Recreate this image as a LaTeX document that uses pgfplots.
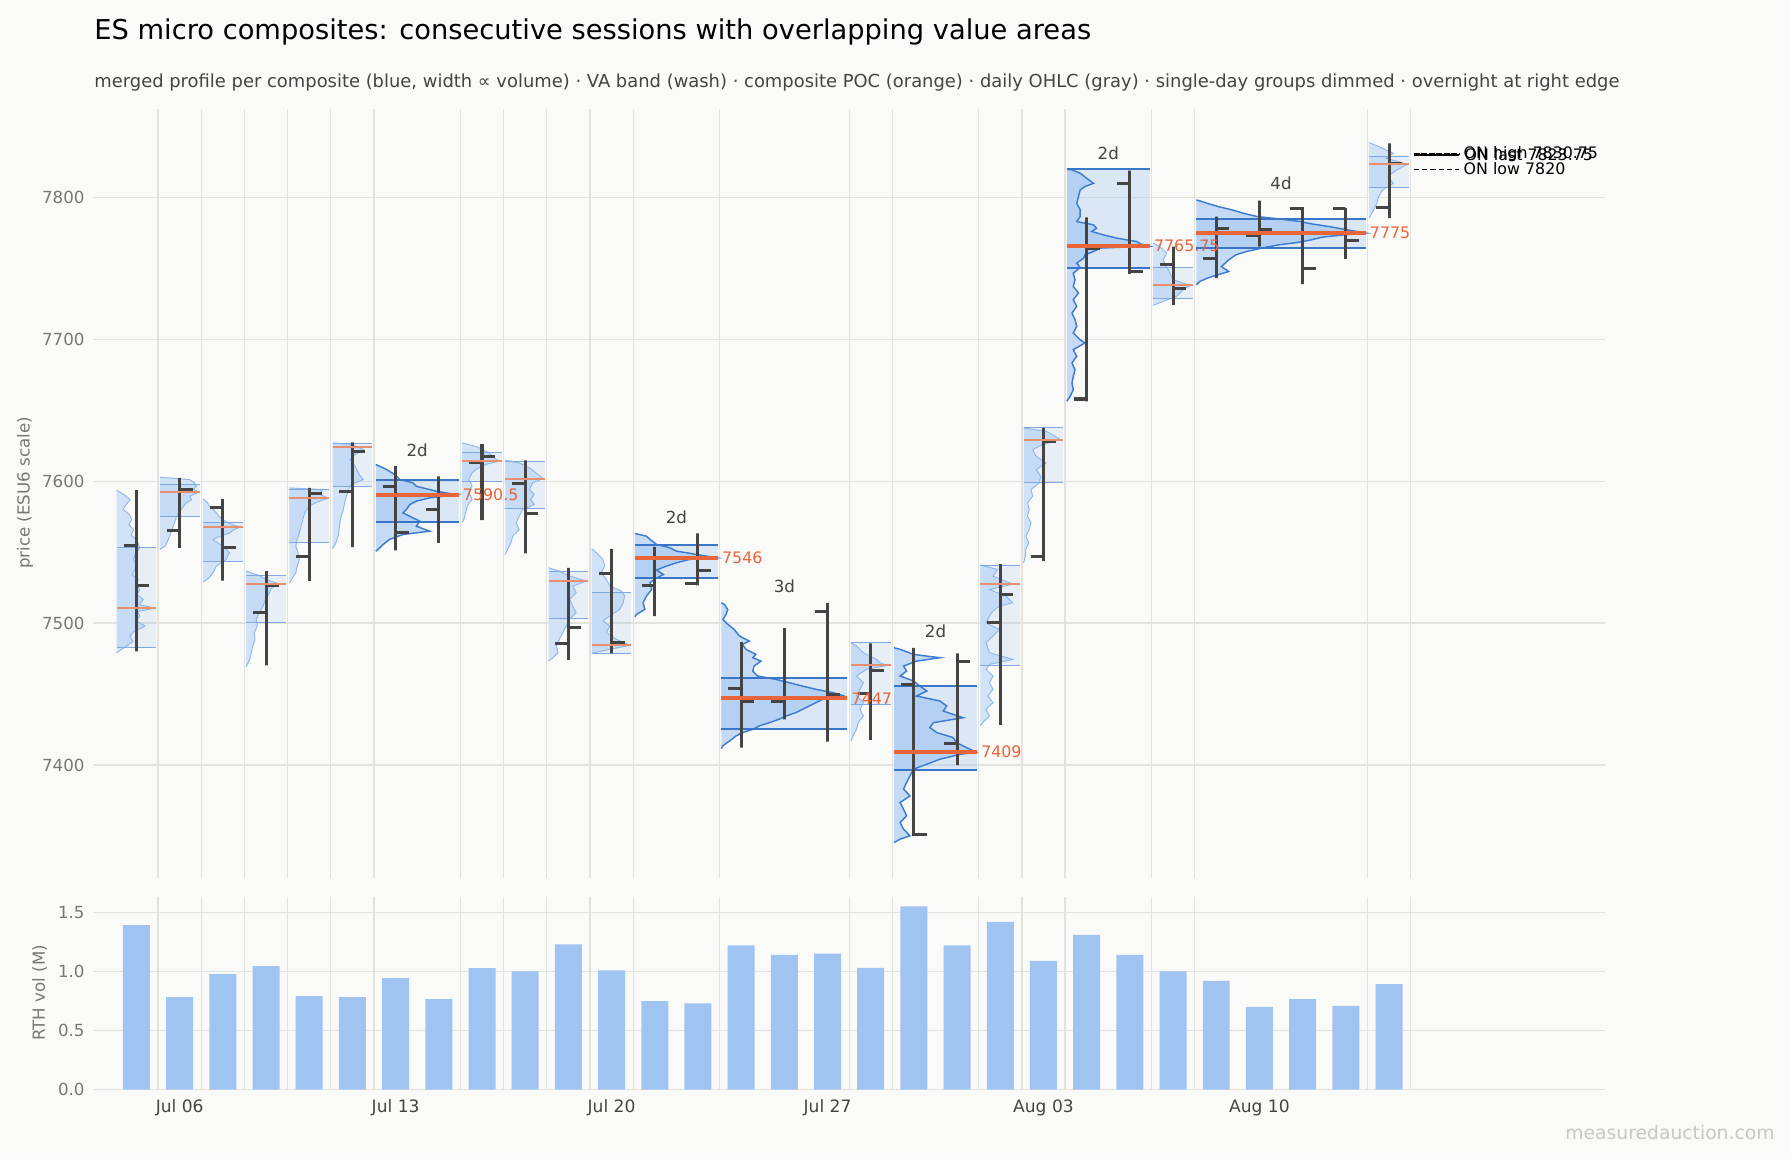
\documentclass[border=0pt]{standalone}
\usepackage{fontspec}
\setmainfont{DejaVu Sans}
\usepackage{pgfplots}
\usepackage{pgfplotstable}
\pgfplotsset{compat=1.18}

\definecolor{bgc}{HTML}{FAFAF8}
\definecolor{gridc}{HTML}{E3E3DE}
\definecolor{profS}{HTML}{D2E3F8}
\definecolor{profM}{HTML}{C4DAF5}
\definecolor{washc}{HTML}{8AB6F0}
\definecolor{olS}{HTML}{8DB7EC}
\definecolor{olM}{HTML}{3C7CD2}
\definecolor{vlS}{HTML}{7EA9E4}
\definecolor{vlM}{HTML}{3A76C8}
\definecolor{pocS}{HTML}{E98E6E}
\definecolor{pocM}{HTML}{E8643A}
\definecolor{ohlcc}{HTML}{444444}
\definecolor{barc}{HTML}{A0C4F2}
\definecolor{tickc}{HTML}{777777}
\definecolor{datec}{HTML}{444444}

% profiles: p = price, w = width (in day units) from composite left edge
\pgfplotstableread[row sep=\\]{p w\\ 7593.7 0\\ 7590.0 0.20\\ 7587.1 0.31\\ 7583.5 0.22\\ 7580.1 0.15\\ 7576.5 0.30\\ 7573.0 0.35\\ 7569.5 0.28\\ 7566.0 0.39\\ 7562.0 0.34\\ 7558.9 0.46\\ 7553.1 0.54\\ 7549.0 0.44\\ 7544.9 0.39\\ 7541.0 0.47\\ 7537.8 0.42\\ 7534.0 0.36\\ 7530.8 0.50\\ 7527.0 0.44\\ 7523.7 0.54\\ 7520.0 0.47\\ 7516.7 0.62\\ 7513.0 0.52\\ 7510.6 0.89\\ 7508.0 0.48\\ 7505.0 0.54\\ 7501.5 0.45\\ 7497.9 0.66\\ 7494.0 0.40\\ 7490.9 0.31\\ 7487.0 0.38\\ 7483.8 0.23\\ 7479.1 0\\}\pA
\pgfplotstableread[row sep=\\]{p w\\ 7602.8 0\\ 7601.2 0.69\\ 7599.0 0.80\\ 7596.5 0.85\\ 7594.5 0.78\\ 7592.3 0.90\\ 7589.5 0.69\\ 7587.0 0.74\\ 7584.8 0.62\\ 7582.5 0.55\\ 7580.1 0.50\\ 7577.8 0.44\\ 7575.4 0.39\\ 7571.8 0.35\\ 7568.3 0.31\\ 7564.8 0.27\\ 7561.3 0.23\\ 7557.8 0.18\\ 7554.2 0.12\\ 7551.9 0\\}\pB
\pgfplotstableread[row sep=\\]{p w\\ 7587.6 0\\ 7585.0 0.10\\ 7582.4 0.15\\ 7580.0 0.24\\ 7577.7 0.31\\ 7575.3 0.37\\ 7573.0 0.46\\ 7570.3 0.60\\ 7567.6 0.85\\ 7565.6 0.70\\ 7563.6 0.62\\ 7561.2 0.40\\ 7558.9 0.23\\ 7556.5 0.35\\ 7554.2 0.46\\ 7551.8 0.55\\ 7549.5 0.62\\ 7547.2 0.57\\ 7544.9 0.54\\ 7542.5 0.42\\ 7540.2 0.31\\ 7537.8 0.27\\ 7535.5 0.23\\ 7532.0 0.14\\ 7528.9 0\\}\pC
\pgfplotstableread[row sep=\\]{p w\\ 7536.6 0\\ 7533.6 0.30\\ 7530.8 0.46\\ 7527.5 0.77\\ 7524.5 0.58\\ 7521.4 0.54\\ 7517.0 0.45\\ 7512.0 0.39\\ 7507.0 0.30\\ 7502.6 0.23\\ 7498.0 0.26\\ 7493.2 0.19\\ 7488.0 0.20\\ 7483.8 0.15\\ 7479.0 0.12\\ 7474.4 0.08\\ 7469.3 0\\}\pD
\pgfplotstableread[row sep=\\]{p w\\ 7595.3 0\\ 7594.2 0.77\\ 7591.0 0.70\\ 7588.0 0.89\\ 7585.0 0.62\\ 7582.4 0.46\\ 7578.0 0.36\\ 7573.0 0.31\\ 7568.0 0.27\\ 7563.6 0.23\\ 7559.0 0.18\\ 7554.2 0.15\\ 7549.5 0.20\\ 7544.9 0.23\\ 7540.0 0.18\\ 7535.5 0.15\\ 7528.4 0\\}\pE
\pgfplotstableread[row sep=\\]{p w\\ 7627.0 0\\ 7625.8 0.48\\ 7622.3 0.71\\ 7618.8 0.52\\ 7615.3 0.40\\ 7611.7 0.50\\ 7608.2 0.56\\ 7604.7 0.62\\ 7601.2 0.71\\ 7598.8 0.52\\ 7596.5 0.40\\ 7593.0 0.36\\ 7589.5 0.32\\ 7585.0 0.28\\ 7580.1 0.25\\ 7575.4 0.20\\ 7570.7 0.17\\ 7566.0 0.15\\ 7561.3 0.13\\ 7556.8 0.08\\ 7552.4 0\\}\pF
\pgfplotstableread[row sep=\\]{p w\\ 7611.8 0\\ 7608.3 0.25\\ 7604.7 0.44\\ 7601.2 0.56\\ 7598.9 0.86\\ 7596.5 0.94\\ 7593.0 1.40\\ 7590.5 1.88\\ 7588.3 1.25\\ 7586.0 0.94\\ 7583.6 0.79\\ 7580.1 0.71\\ 7577.7 0.63\\ 7574.2 0.86\\ 7571.9 1.02\\ 7568.3 0.94\\ 7564.8 1.25\\ 7562.5 0.63\\ 7559.0 0.32\\ 7555.4 0.17\\ 7551.9 0.05\\ 7550.7 0\\}\pG
\pgfplotstableread[row sep=\\]{p w\\ 7627.0 0\\ 7624.7 0.31\\ 7622.3 0.48\\ 7620.0 0.62\\ 7617.0 0.72\\ 7614.1 0.85\\ 7612.3 0.60\\ 7610.6 0.46\\ 7608.2 0.32\\ 7605.9 0.23\\ 7603.5 0.19\\ 7601.2 0.15\\ 7598.8 0.20\\ 7596.5 0.23\\ 7594.1 0.18\\ 7591.8 0.15\\ 7589.4 0.20\\ 7587.1 0.23\\ 7584.7 0.16\\ 7582.4 0.12\\ 7577.7 0.08\\ 7573.0 0.04\\ 7571.1 0\\}\pH
\pgfplotstableread[row sep=\\]{p w\\ 7614.8 0\\ 7613.0 0.32\\ 7609.4 0.56\\ 7605.9 0.71\\ 7601.9 0.88\\ 7598.9 0.63\\ 7594.2 0.56\\ 7590.7 0.67\\ 7587.1 0.59\\ 7583.6 0.67\\ 7580.1 0.40\\ 7575.4 0.32\\ 7570.7 0.25\\ 7566.0 0.32\\ 7561.3 0.17\\ 7556.6 0.13\\ 7551.9 0.05\\ 7548.4 0\\}\pI
\pgfplotstableread[row sep=\\]{p w\\ 7539.0 0\\ 7536.7 0.25\\ 7533.2 0.49\\ 7529.6 0.87\\ 7526.1 0.56\\ 7521.4 0.64\\ 7516.7 0.49\\ 7512.0 0.56\\ 7507.3 0.64\\ 7503.1 0.49\\ 7497.9 0.41\\ 7493.3 0.33\\ 7488.6 0.25\\ 7483.9 0.18\\ 7479.2 0.22\\ 7475.6 0.10\\ 7473.3 0\\}\pJ
\pgfplotstableread[row sep=\\]{p w\\ 7552.4 0\\ 7549.6 0.11\\ 7544.9 0.26\\ 7540.2 0.30\\ 7535.5 0.22\\ 7530.8 0.34\\ 7526.1 0.42\\ 7522.6 0.69\\ 7519.1 0.76\\ 7514.4 0.73\\ 7509.7 0.65\\ 7505.0 0.42\\ 7501.5 0.26\\ 7497.9 0.42\\ 7493.3 0.34\\ 7488.6 0.57\\ 7484.3 0.88\\ 7481.5 0.42\\ 7478.7 0\\}\pK
\pgfplotstableread[row sep=\\]{p w\\ 7563.2 0\\ 7561.3 0.27\\ 7559.0 0.35\\ 7555.5 0.50\\ 7553.1 0.81\\ 7550.8 0.96\\ 7548.4 1.43\\ 7546.0 1.89\\ 7544.9 1.27\\ 7542.5 0.96\\ 7540.2 0.73\\ 7537.4 0.50\\ 7534.3 0.66\\ 7531.7 0.50\\ 7528.5 0.35\\ 7523.8 0.39\\ 7519.1 0.27\\ 7514.4 0.19\\ 7509.7 0.23\\ 7506.2 0.04\\ 7504.5 0\\}\pL
\pgfplotstableread[row sep=\\]{p w\\ 7514.3 0\\ 7513.2 0.07\\ 7509.6 0.15\\ 7506.1 0.11\\ 7502.6 0.04\\ 7500.2 0.11\\ 7495.5 0.30\\ 7490.9 0.42\\ 7487.3 0.65\\ 7485.0 0.49\\ 7481.5 0.57\\ 7478.0 0.80\\ 7475.6 0.73\\ 7473.2 0.92\\ 7469.7 0.76\\ 7466.2 0.73\\ 7462.7 0.84\\ 7460.3 1.27\\ 7458.0 1.57\\ 7455.6 1.88\\ 7453.3 2.19\\ 7451.0 2.58\\ 7448.6 2.85\\ 7447.0 2.89\\ 7446.3 2.35\\ 7443.9 2.19\\ 7441.6 2.04\\ 7439.2 1.88\\ 7436.9 1.73\\ 7434.5 1.50\\ 7432.2 1.34\\ 7429.8 1.11\\ 7427.5 0.88\\ 7425.1 0.73\\ 7422.8 0.49\\ 7420.4 0.34\\ 7416.9 0.19\\ 7413.4 0.03\\ 7411.5 0\\}\pM
\pgfplotstableread[row sep=\\]{p w\\ 7486.2 0\\ 7483.8 0.13\\ 7479.1 0.29\\ 7474.4 0.60\\ 7472.1 0.67\\ 7470.2 0.85\\ 7467.4 0.36\\ 7462.7 0.13\\ 7458.0 0.29\\ 7453.3 0.21\\ 7448.6 0.13\\ 7443.9 0.29\\ 7439.2 0.21\\ 7434.5 0.29\\ 7429.8 0.17\\ 7425.1 0.13\\ 7420.4 0.05\\ 7416.9 0\\}\pN
\pgfplotstableread[row sep=\\]{p w\\ 7482.6 0\\ 7481.5 0.14\\ 7477.9 0.45\\ 7475.6 1.06\\ 7473.2 0.52\\ 7469.7 0.22\\ 7466.2 0.29\\ 7462.7 0.14\\ 7459.2 0.45\\ 7455.6 0.60\\ 7452.1 0.76\\ 7448.6 0.52\\ 7445.1 1.06\\ 7441.6 1.22\\ 7438.0 1.14\\ 7433.3 1.60\\ 7429.8 0.91\\ 7426.3 0.83\\ 7422.8 0.99\\ 7419.3 1.37\\ 7415.7 1.45\\ 7412.2 1.68\\ 7409.0 1.90\\ 7407.5 1.53\\ 7404.0 1.06\\ 7400.5 0.76\\ 7397.0 0.45\\ 7392.3 0.37\\ 7387.6 0.29\\ 7382.9 0.22\\ 7378.2 0.37\\ 7373.5 0.14\\ 7368.8 0.22\\ 7364.1 0.29\\ 7359.4 0.14\\ 7354.7 0.22\\ 7350.0 0.37\\ 7347.7 0.14\\ 7345.3 0\\}\pO
\pgfplotstableread[row sep=\\]{p w\\ 7541.0 0\\ 7537.8 0.40\\ 7533.1 0.29\\ 7527.5 0.75\\ 7523.7 0.21\\ 7519.0 0.59\\ 7514.3 0.75\\ 7512.0 0.44\\ 7508.5 0.29\\ 7504.9 0.21\\ 7500.2 0.13\\ 7495.5 0.44\\ 7490.9 0.29\\ 7486.2 0.13\\ 7479.1 0.21\\ 7474.4 0.75\\ 7470.9 0.21\\ 7467.4 0.13\\ 7462.7 0.29\\ 7458.0 0.21\\ 7453.3 0.29\\ 7448.6 0.17\\ 7443.9 0.29\\ 7439.2 0.13\\ 7434.5 0.21\\ 7429.8 0.05\\ 7427.5 0\\}\pP
\pgfplotstableread[row sep=\\]{p w\\ 7637.6 0\\ 7635.2 0.52\\ 7632.9 0.67\\ 7629.4 0.85\\ 7625.9 0.44\\ 7622.3 0.21\\ 7617.6 0.29\\ 7612.9 0.52\\ 7608.2 0.29\\ 7603.5 0.40\\ 7598.9 0.36\\ 7594.2 0.17\\ 7589.5 0.21\\ 7584.8 0.09\\ 7580.1 0.13\\ 7575.4 0.09\\ 7570.7 0.17\\ 7566.0 0.13\\ 7561.3 0.05\\ 7556.6 0.12\\ 7551.9 0.05\\ 7547.2 0.04\\ 7542.5 0\\}\pQ
\pgfplotstableread[row sep=\\]{p w\\ 7820.0 0\\ 7819.5 0.12\\ 7817.2 0.31\\ 7813.6 0.46\\ 7810.1 0.62\\ 7807.8 0.42\\ 7805.4 0.31\\ 7800.7 0.27\\ 7796.0 0.23\\ 7791.3 0.31\\ 7786.7 0.31\\ 7783.1 0.23\\ 7780.8 0.62\\ 7778.4 0.69\\ 7776.1 0.58\\ 7773.7 0.85\\ 7771.4 1.16\\ 7769.0 1.62\\ 7767.4 1.70\\ 7765.75 1.91\\ 7764.4 0.77\\ 7762.0 0.62\\ 7759.7 0.42\\ 7757.3 0.39\\ 7753.8 0.23\\ 7750.7 0.31\\ 7746.7 0.15\\ 7742.1 0.19\\ 7737.4 0.15\\ 7732.7 0.27\\ 7728.0 0.15\\ 7723.3 0.23\\ 7718.6 0.12\\ 7713.9 0.19\\ 7709.2 0.23\\ 7704.5 0.15\\ 7699.8 0.31\\ 7697.5 0.42\\ 7692.8 0.15\\ 7688.1 0.23\\ 7683.4 0.12\\ 7678.7 0.19\\ 7674.0 0.15\\ 7669.3 0.12\\ 7664.6 0.15\\ 7659.9 0.08\\ 7656.4 0\\}\pR
\pgfplotstableread[row sep=\\]{p w\\ 7767.9 0\\ 7765.5 0.15\\ 7760.8 0.31\\ 7756.1 0.23\\ 7751.4 0.31\\ 7746.7 0.39\\ 7742.1 0.46\\ 7738.1 0.85\\ 7735.0 0.69\\ 7730.3 0.54\\ 7726.8 0.23\\ 7724.0 0\\}\pS
\pgfplotstableread[row sep=\\]{p w\\ 7798.4 0\\ 7796.0 0.25\\ 7793.7 0.50\\ 7791.3 0.83\\ 7789.0 1.08\\ 7786.6 1.41\\ 7785.0 1.91\\ 7783.1 2.41\\ 7781.5 2.66\\ 7779.6 3.07\\ 7777.3 3.49\\ 7775.0 3.92\\ 7773.7 3.41\\ 7772.1 2.91\\ 7770.2 2.66\\ 7768.3 2.33\\ 7766.7 1.91\\ 7764.8 1.58\\ 7762.0 1.16\\ 7759.6 0.91\\ 7756.1 0.75\\ 7751.4 0.58\\ 7747.9 0.75\\ 7745.6 0.50\\ 7743.2 0.25\\ 7740.9 0.08\\ 7738.5 0\\}\pT
\pgfplotstableread[row sep=\\]{p w\\ 7838.8 0\\ 7836.0 0.22\\ 7831.2 0.56\\ 7827.7 0.39\\ 7823.5 0.89\\ 7819.5 0.64\\ 7814.8 0.43\\ 7810.1 0.56\\ 7805.4 0.31\\ 7800.7 0.22\\ 7796.0 0.18\\ 7791.3 0.10\\ 7785.5 0\\}\pU

\pgfplotsset{
  pf s/.style={fill=profS, draw=none},
  pf m/.style={fill=profM, draw=none},
  va s/.style={fill=washc, fill opacity=0.17, draw=none},
  va m/.style={fill=washc, fill opacity=0.27, draw=none},
  ol s/.style={draw=olS, line width=0.45pt},
  ol m/.style={draw=olM, line width=0.7pt},
  vl s/.style={draw=vlS, line width=0.5pt},
  vl m/.style={draw=vlM, line width=0.95pt},
  poc s/.style={draw=pocS, line width=1.0pt},
  poc m/.style={draw=pocM, line width=1.8pt},
  ohlcst/.style={draw=ohlcc, line width=1.45pt, line join=miter},
}
% #1 table, #2 xL, #3 xR, #4 VAL, #5 VAH, #6 s|m
\newcommand{\Comp}[6]{%
  \addplot[pf #6] table[x expr=#2+\thisrow{w}, y=p]{#1} -- cycle;
  \addplot[va #6] coordinates {(#2,#4) (#3,#4) (#3,#5) (#2,#5)} -- cycle;
  \addplot[ol #6] table[x expr=#2+\thisrow{w}, y=p]{#1};
  \addplot[vl #6] coordinates {(#2,#4) (#3,#4)};
  \addplot[vl #6] coordinates {(#2,#5) (#3,#5)};
}
\newcommand{\Poc}[4]{\addplot[poc #4] coordinates {(#1,#3) (#2,#3)};}
% #1 open-tick x, #2 day x, #3 close-tick x, #4 O, #5 H, #6 L, #7 C
\newcommand{\Bar}[7]{\addplot[ohlcst] coordinates {(#1,#4) (#2,#4) (#2,#5) (#2,#6) (#2,#7) (#3,#7)};}

\begin{document}
\begin{tikzpicture}
\fill[bgc] (0,0) rectangle (859.68pt,556.32pt);
\node[anchor=west, inner sep=0pt] at (45.1pt,541.2pt) {\fontsize{13.1}{15.5}\selectfont ES micro composites: consecutive sessions with overlapping value areas};
\node[anchor=west, inner sep=0pt, text=datec] at (45.1pt,516.9pt) {\fontsize{8.6}{10}\selectfont merged profile per composite (blue, width ∝ volume) · VA band (wash) · composite POC (orange) · daily OHLC (gray) · single-day groups dimmed · overnight at right edge};
\node[rotate=90, text=tickc, inner sep=0pt] at (12pt,319.7pt) {\fontsize{8}{9}\selectfont price (ESU6 scale)};
\node[rotate=90, text=tickc, inner sep=0pt] at (19pt,79.7pt) {\fontsize{8}{9}\selectfont RTH vol (M)};
\node[anchor=east, text=black!22, inner sep=0pt] at (852pt,12.5pt) {\fontsize{9}{10}\selectfont measuredauction.com};

\begin{axis}[
  at={(44.78pt,135.02pt)}, anchor=south west, scale only axis,
  width=725.6pt, height=369.2pt,
  xmin=-1, xmax=34, ymin=7320.5, ymax=7862.8,
  axis line style={draw=none}, tick style={draw=none},
  xtick={0.5,1.5,2.5,3.5,4.5,5.5,7.5,8.5,9.5,10.5,11.5,13.5,16.5,17.5,19.5,20.5,21.5,23.5,24.5,28.5,29.5},
  xticklabels={},
  ytick={7400,7500,7600,7700,7800},
  scaled y ticks=false,
  /pgf/number format/set thousands separator={},
  /pgf/number format/assume math mode=true,
  grid=major, grid style={draw=gridc, line width=0.6pt},
  yticklabel style={font=\fontsize{8}{9}\selectfont, text=tickc, inner sep=0pt, xshift=-4pt},
]
\Comp{\pA}{-0.46}{0.46}{7483.1}{7553.1}{s}
\Comp{\pB}{0.54}{1.46}{7575.0}{7598.0}{s}
\Comp{\pC}{1.54}{2.46}{7543.2}{7570.7}{s}
\Comp{\pD}{2.54}{3.46}{7500.5}{7533.6}{s}
\Comp{\pE}{3.54}{4.46}{7556.6}{7594.2}{s}
\Comp{\pF}{4.54}{5.46}{7596.5}{7626.3}{s}
\Comp{\pG}{5.54}{7.46}{7571.1}{7601.2}{m}
\Comp{\pH}{7.54}{8.46}{7600.0}{7620.0}{s}
\Comp{\pI}{8.54}{9.46}{7580.6}{7613.7}{s}
\Comp{\pJ}{9.54}{10.46}{7503.1}{7536.7}{s}
\Comp{\pK}{10.54}{11.46}{7478.7}{7521.4}{s}
\Comp{\pL}{11.54}{13.46}{7531.7}{7554.8}{m}
\Comp{\pM}{13.54}{16.46}{7425.4}{7461.3}{m}
\Comp{\pN}{16.54}{17.46}{7442.7}{7486.2}{s}
\Comp{\pO}{17.54}{19.46}{7396.5}{7455.6}{m}
\Comp{\pP}{19.54}{20.46}{7470.0}{7540.6}{s}
\Comp{\pQ}{20.54}{21.46}{7598.9}{7637.6}{s}
\Comp{\pR}{21.54}{23.46}{7750.7}{7820.0}{m}
\Comp{\pS}{23.54}{24.46}{7728.7}{7751.0}{s}
\Comp{\pT}{24.54}{28.46}{7764.8}{7785.2}{m}
\Comp{\pU}{28.54}{29.46}{7807.3}{7828.9}{s}
% daily OHLC
\Bar{-0.3}{0}{0.3}{7555.0}{7593.7}{7480.0}{7526.5}
\Bar{0.7}{1}{1.3}{7565.3}{7602.4}{7553.0}{7594.0}
\Bar{1.7}{2}{2.3}{7581.2}{7587.6}{7530.0}{7553.3}
\Bar{2.7}{3}{3.3}{7507.5}{7536.6}{7470.2}{7526.8}
\Bar{3.7}{4}{4.3}{7547.0}{7595.3}{7529.8}{7591.4}
\Bar{4.7}{5}{5.3}{7592.7}{7627.5}{7553.5}{7620.9}
\Bar{5.7}{6}{6.3}{7596.0}{7610.6}{7551.2}{7564.0}
\Bar{6.7}{7}{7.3}{7580.0}{7603.5}{7556.6}{7591.0}
\Bar{7.7}{8}{8.3}{7613.0}{7626.2}{7572.6}{7617.5}
\Bar{8.7}{9}{9.3}{7598.2}{7614.8}{7549.1}{7577.3}
\Bar{9.7}{10}{10.3}{7485.7}{7539.0}{7474.0}{7496.8}
\Bar{10.7}{11}{11.3}{7535.0}{7552.4}{7478.7}{7486.2}
\Bar{11.7}{12}{12.3}{7526.6}{7553.8}{7505.0}{7546.0}
\Bar{12.7}{13}{13.3}{7528.0}{7563.2}{7526.6}{7537.1}
\Bar{13.7}{14}{14.3}{7454.0}{7486.6}{7412.2}{7444.6}
\Bar{14.7}{15}{15.3}{7444.6}{7496.5}{7432.2}{7447.5}
\Bar{15.7}{16}{16.3}{7508.0}{7514.3}{7416.4}{7449.8}
\Bar{16.7}{17}{17.3}{7450.5}{7485.7}{7417.6}{7466.7}
\Bar{17.7}{18}{18.3}{7456.8}{7482.6}{7351.2}{7351.2}
\Bar{18.7}{19}{19.3}{7415.3}{7478.6}{7399.8}{7472.8}
\Bar{19.7}{20}{20.3}{7500.2}{7541.6}{7428.2}{7520.2}
\Bar{20.7}{21}{21.3}{7547.0}{7637.6}{7543.7}{7628.2}
\Bar{21.7}{22}{22.3}{7658.0}{7786.0}{7656.4}{7764.1}
\Bar{22.7}{23}{23.3}{7809.7}{7819.0}{7746.3}{7747.9}
\Bar{23.7}{24}{24.3}{7752.6}{7765.5}{7724.4}{7736.2}
\Bar{24.7}{25}{25.3}{7757.3}{7786.6}{7743.2}{7778.4}
\Bar{25.7}{26}{26.3}{7773.0}{7797.9}{7765.5}{7777.7}
\Bar{26.7}{27}{27.3}{7792.0}{7792.0}{7739.0}{7749.8}
\Bar{27.7}{28}{28.3}{7792.3}{7792.5}{7756.8}{7769.5}
\Bar{28.7}{29}{29.3}{7793.2}{7838.3}{7785.5}{7823.7}
% POC lines
\Poc{-0.46}{0.46}{7510.6}{s}
\Poc{0.54}{1.46}{7592.3}{s}
\Poc{1.54}{2.46}{7567.6}{s}
\Poc{2.54}{3.46}{7527.5}{s}
\Poc{3.54}{4.46}{7588.0}{s}
\Poc{4.54}{5.46}{7624.0}{s}
\Poc{5.54}{7.46}{7590.5}{m}
\Poc{7.54}{8.46}{7614.0}{s}
\Poc{8.54}{9.46}{7601.9}{s}
\Poc{9.54}{10.46}{7529.6}{s}
\Poc{10.54}{11.46}{7484.3}{s}
\Poc{11.54}{13.46}{7546.0}{m}
\Poc{13.54}{16.46}{7447.0}{m}
\Poc{16.54}{17.46}{7470.2}{s}
\Poc{17.54}{19.46}{7409.0}{m}
\Poc{19.54}{20.46}{7527.5}{s}
\Poc{20.54}{21.46}{7629.4}{s}
\Poc{21.54}{23.46}{7765.75}{m}
\Poc{23.54}{24.46}{7738.1}{s}
\Poc{24.54}{28.46}{7775.0}{m}
\Poc{28.54}{29.46}{7823.5}{s}
% overnight levels
\addplot[black, line width=1.1pt, dash pattern=on 3pt off 0.6pt] coordinates {(29.57,7830.75) (30.62,7830.75)};
\addplot[black, line width=0.8pt] coordinates {(29.57,7830.0) (30.62,7830.0)};
\addplot[black, line width=0.6pt, dash pattern=on 2.5pt off 1.5pt] coordinates {(29.57,7820) (30.62,7820)};
\node[anchor=west, inner sep=0pt, font=\fontsize{7.6}{9}\selectfont] at (axis cs:30.72,7830.9) {ON high 7830.75};
\node[anchor=west, inner sep=0pt, font=\fontsize{7.6}{9}\selectfont] at (axis cs:30.74,7830.2) {ON last 7823.75};
\node[anchor=west, inner sep=0pt, font=\fontsize{7.6}{9}\selectfont] at (axis cs:30.72,7820.2) {ON low 7820};
% labels
\begin{scope}[every node/.style={font=\fontsize{8}{9}\selectfont, text=datec, inner sep=0pt}]
\node at (axis cs:6.5,7622.0) {2d};
\node at (axis cs:12.5,7574.7) {2d};
\node at (axis cs:15,7525.8) {3d};
\node at (axis cs:18.5,7494.1) {2d};
\node at (axis cs:22.5,7831.5) {2d};
\node at (axis cs:26.5,7809.9) {4d};
\end{scope}
\begin{scope}[every node/.style={font=\fontsize{7.6}{9}\selectfont, text=pocM, inner sep=0pt, anchor=west}]
\node at (axis cs:7.55,7590.5) {7590.5};
\node at (axis cs:13.55,7546) {7546};
\node at (axis cs:16.55,7447) {7447};
\node at (axis cs:19.55,7409) {7409};
\node at (axis cs:23.55,7765.75) {7765.75};
\node at (axis cs:28.55,7775) {7775};
\end{scope}
\end{axis}

\begin{axis}[
  at={(44.78pt,33.26pt)}, anchor=south west, scale only axis,
  width=725.6pt, height=92.5pt,
  xmin=-1, xmax=34, ymin=0, ymax=1.63,
  axis line style={draw=none}, tick style={draw=none},
  xtick={0.5,1.5,2.5,3.5,4.5,5.5,7.5,8.5,9.5,10.5,11.5,13.5,16.5,17.5,19.5,20.5,21.5,23.5,24.5,28.5,29.5},
  xticklabels={},
  extra x ticks={1,6,11,16,21,26},
  extra x tick labels={Jul 06,Jul 13,Jul 20,Jul 27,Aug 03,Aug 10},
  extra x tick style={grid=none, xticklabel style={font=\fontsize{8.2}{9}\selectfont, text=datec, inner sep=0pt, yshift=-4.5pt}},
  ytick={0,0.5,1,1.5},
  /pgf/number format/.cd, fixed, fixed zerofill, precision=1, assume math mode=true, /pgfplots/.cd,
  grid=major, grid style={draw=gridc, line width=0.6pt},
  yticklabel style={font=\fontsize{8}{9}\selectfont, text=tickc, inner sep=0pt, xshift=-4pt},
]
\addplot[ybar, bar width=0.625, fill=barc, draw=none] coordinates {
(0,1.393) (1,0.784) (2,0.978) (3,1.046) (4,0.792) (5,0.784) (6,0.944) (7,0.767) (8,1.029) (9,1.00)
(10,1.23) (11,1.01) (12,0.75) (13,0.73) (14,1.22) (15,1.14) (16,1.15) (17,1.03) (18,1.55) (19,1.22)
(20,1.42) (21,1.09) (22,1.31) (23,1.14) (24,1.00) (25,0.92) (26,0.70) (27,0.767) (28,0.708) (29,0.894)};
\end{axis}
\end{tikzpicture}
\end{document}
